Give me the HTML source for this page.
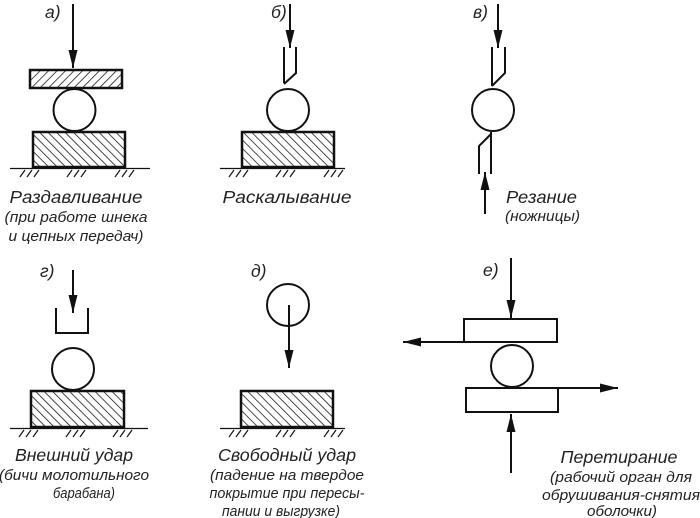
<!DOCTYPE html>
<html><head><meta charset="utf-8"><style>
html,body{margin:0;padding:0;background:#fff;width:700px;height:518px;overflow:hidden}
svg text{font-family:"Liberation Sans",sans-serif;font-style:italic;fill:#222}
.m{font-size:17.5px}.s{font-size:15px}
</style></head><body>
<svg width="700" height="518" viewBox="0 0 700 518" xmlns="http://www.w3.org/2000/svg">
<defs>
<pattern id="hf" width="6" height="6" patternUnits="userSpaceOnUse" patternTransform="rotate(45)"><line x1="0" y1="0" x2="0" y2="6" stroke="#111" stroke-width="1.5"/></pattern>
<pattern id="hb" width="6" height="6" patternUnits="userSpaceOnUse" patternTransform="rotate(-45)"><line x1="0" y1="0" x2="0" y2="6" stroke="#111" stroke-width="1.5"/></pattern>
<marker id="al" viewBox="0 0 20 10" refX="20" refY="5" markerWidth="20" markerHeight="9" markerUnits="userSpaceOnUse" orient="auto"><path d="M0,0 L20,5 L0,10 Z" fill="#111"/></marker>
</defs>
<g stroke="#111" fill="none" stroke-width="2">
<line x1="73" y1="4" x2="73" y2="68" marker-end="url(#al)"/>
<rect x="30" y="70" width="92" height="18" fill="url(#hf)" stroke-width="2.5"/>
<circle cx="74.5" cy="110" r="21"/>
<rect x="33" y="132" width="92" height="35" fill="url(#hb)" stroke-width="2.5"/>
<line x1="10" y1="168.5" x2="150" y2="168.5" stroke-width="1.2"/>
<line x1="290" y1="4" x2="290" y2="48" marker-end="url(#al)"/>
<path d="M284,47 V83 M296,47 V73 L284,84"/>
<circle cx="288" cy="110" r="21"/>
<rect x="242" y="132" width="92" height="35" fill="url(#hb)" stroke-width="2.5"/>
<line x1="220" y1="168.5" x2="345" y2="168.5" stroke-width="1.2"/>
<line x1="498" y1="4" x2="498" y2="48" marker-end="url(#al)"/>
<path d="M492,47 V86 M505,47 V73 L492,86"/>
<circle cx="493" cy="110" r="21"/>
<path d="M479,174 V146 L491,134 M491,132 V174"/>
<line x1="485" y1="214" x2="485" y2="172" marker-end="url(#al)"/>
<line x1="73" y1="270" x2="73" y2="313" marker-end="url(#al)"/>
<path d="M56,308 V333 H88 V308"/>
<circle cx="73" cy="369" r="21"/>
<rect x="31" y="391" width="93" height="36" fill="url(#hb)" stroke-width="2.5"/>
<line x1="10" y1="428.5" x2="148" y2="428.5" stroke-width="1.2"/>
<circle cx="288" cy="305" r="21"/>
<line x1="289" y1="305" x2="289" y2="368" marker-end="url(#al)"/>
<rect x="241" y="391" width="92" height="36" fill="url(#hb)" stroke-width="2.5"/>
<line x1="220" y1="428.5" x2="345" y2="428.5" stroke-width="1.2"/>
<line x1="511" y1="258" x2="511" y2="318" marker-end="url(#al)"/>
<rect x="464" y="319" width="93" height="23"/>
<line x1="464" y1="342" x2="403" y2="342" marker-end="url(#al)"/>
<circle cx="512" cy="366" r="21"/>
<rect x="466" y="388" width="92" height="24"/>
<line x1="558" y1="388" x2="618" y2="388" marker-end="url(#al)"/>
<line x1="511" y1="473" x2="511" y2="414" marker-end="url(#al)"/>
</g>
<g stroke="#111" stroke-width="1.2">
<path d="M20,177 L25,170 M27,177 L32,170 M34,177 L39,170 M67,177 L72,170 M74,177 L79,170 M81,177 L86,170 M115,177 L120,170 M122,177 L127,170 M129,177 L134,170"/>
<path d="M229,177 L234,170 M236,177 L241,170 M243,177 L248,170 M276,177 L281,170 M283,177 L288,170 M290,177 L295,170 M324,177 L329,170 M331,177 L336,170 M338,177 L343,170"/>
<path d="M19,437 L24,430 M26,437 L31,430 M33,437 L38,430 M66,437 L71,430 M73,437 L78,430 M80,437 L85,430 M113,437 L118,430 M120,437 L125,430 M127,437 L132,430"/>
<path d="M229,437 L234,430 M236,437 L241,430 M243,437 L248,430 M276,437 L281,430 M283,437 L288,430 M290,437 L295,430 M324,437 L329,430 M331,437 L336,430 M338,437 L343,430"/>
</g>
<text class="m" x="45" y="18">а)</text>
<text class="m" x="271" y="18">б)</text>
<text class="m" x="473" y="18">в)</text>
<text class="m" x="40" y="277">г)</text>
<text class="m" x="251" y="277">д)</text>
<text class="m" x="483" y="276">е)</text>
<g text-anchor="middle">
<text class="m" x="76" y="203" textLength="133" lengthAdjust="spacingAndGlyphs">Раздавливание</text>
<text class="s" x="76" y="222" textLength="143" lengthAdjust="spacingAndGlyphs">(при работе шнека</text>
<text class="s" x="76" y="241" textLength="135" lengthAdjust="spacingAndGlyphs">и цепных передач)</text>
<text class="m" x="287" y="203" textLength="129" lengthAdjust="spacingAndGlyphs">Раскалывание</text>
<text class="m" x="74" y="461" textLength="118" lengthAdjust="spacingAndGlyphs">Внешний удар</text>
<text class="s" x="74" y="480" textLength="150" lengthAdjust="spacingAndGlyphs">(бичи молотильного</text>
<text class="s" x="84" y="498" textLength="62" lengthAdjust="spacingAndGlyphs">барабана)</text>
<text class="m" x="287" y="461" textLength="138" lengthAdjust="spacingAndGlyphs">Свободный удар</text>
<text class="s" x="287" y="480" textLength="154" lengthAdjust="spacingAndGlyphs">(падение на твердое</text>
<text class="s" x="287" y="498" textLength="155" lengthAdjust="spacingAndGlyphs">покрытие при пересы-</text>
<text class="s" x="281" y="516" textLength="118" lengthAdjust="spacingAndGlyphs">пании и выгрузке)</text>
<text class="m" x="619" y="463" textLength="117" lengthAdjust="spacingAndGlyphs">Перетирание</text>
<text class="s" x="621" y="482" textLength="142" lengthAdjust="spacingAndGlyphs">(рабочий орган для</text>
<text class="s" x="621" y="500" textLength="158" lengthAdjust="spacingAndGlyphs">обрушивания-снятия</text>
<text class="s" x="622" y="516" textLength="70" lengthAdjust="spacingAndGlyphs">оболочки)</text>
</g>
<text class="m" x="506" y="203" textLength="71" lengthAdjust="spacingAndGlyphs">Резание</text>
<text class="s" x="505" y="221" textLength="75" lengthAdjust="spacingAndGlyphs">(ножницы)</text>
</svg>
</body></html>
